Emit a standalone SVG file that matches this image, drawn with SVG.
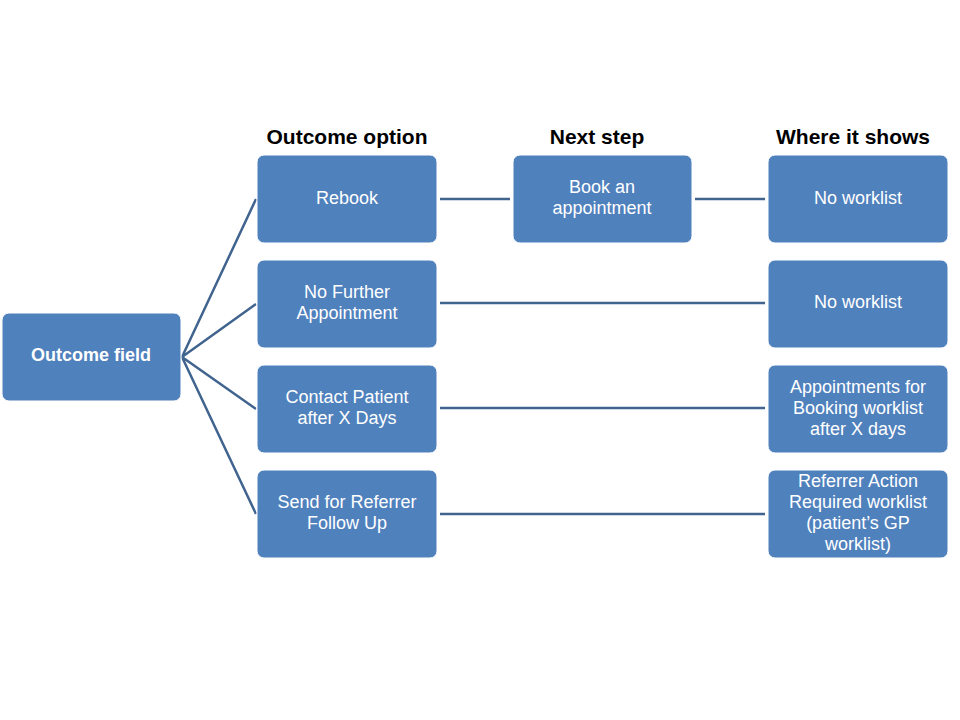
<svg xmlns="http://www.w3.org/2000/svg" width="960" height="720" viewBox="0 0 960 720">
<style>
.b{fill:#4F81BD;stroke:#ffffff;stroke-width:1}
.t{fill:#fff;font-family:"Liberation Sans",Arial,sans-serif;font-size:18px;text-anchor:middle}
.h{fill:#000;font-family:"Liberation Sans",Arial,sans-serif;font-size:21px;font-weight:bold;text-anchor:middle}
.c{stroke:#41648F;stroke-width:2.5;fill:none}
</style>
<rect width="960" height="720" fill="#fff"/>
<g id="headers">
<text class="h" x="347" y="144">Outcome option</text>
<text class="h" x="597" y="144">Next step</text>
<text class="h" x="853" y="144">Where it shows</text>
</g>
<g id="connectors">
<path class="c" d="M182 357L256 199M182 357L256 304M182 357L256 409M182 357L256 514"/>
<path class="c" d="M440 199H510M695 199H765M440 303H765M440 408H765M440 514H765"/>
</g>
<g id="outcome"><rect class="b" x="2" y="313" width="179" height="88" rx="7"/><text class="t" x="91" y="361" font-weight="bold">Outcome field</text></g>
<g id="rebook"><rect class="b" x="257" y="155" width="180" height="88" rx="7"/><text class="t" x="347" y="204">Rebook</text></g>
<g id="nofurther"><rect class="b" x="257" y="260" width="180" height="88" rx="7"/><text class="t" x="347" y="298">No Further</text><text class="t" x="347" y="319">Appointment</text></g>
<g id="contact"><rect class="b" x="257" y="365" width="180" height="88" rx="7"/><text class="t" x="347" y="403">Contact Patient</text><text class="t" x="347" y="424">after X Days</text></g>
<g id="referrer"><rect class="b" x="257" y="470" width="180" height="88" rx="7"/><text class="t" x="347" y="508">Send for Referrer</text><text class="t" x="347" y="529">Follow Up</text></g>
<g id="book"><rect class="b" x="513" y="155" width="179" height="88" rx="7"/><text class="t" x="602" y="193">Book an</text><text class="t" x="602" y="214">appointment</text></g>
<g id="w1"><rect class="b" x="768" y="155" width="180" height="88" rx="7"/><text class="t" x="858" y="204">No worklist</text></g>
<g id="w2"><rect class="b" x="768" y="260" width="180" height="88" rx="7"/><text class="t" x="858" y="308">No worklist</text></g>
<g id="w3"><rect class="b" x="768" y="365" width="180" height="88" rx="7"/><text class="t" x="858" y="393">Appointments for</text><text class="t" x="858" y="414">Booking worklist</text><text class="t" x="858" y="435">after X days</text></g>
<g id="w4"><rect class="b" x="768" y="470" width="180" height="88" rx="7"/><text class="t" x="858" y="487">Referrer Action</text><text class="t" x="858" y="508">Required worklist</text><text class="t" x="858" y="529">(patient’s GP</text><text class="t" x="858" y="550">worklist)</text></g>
</svg>
